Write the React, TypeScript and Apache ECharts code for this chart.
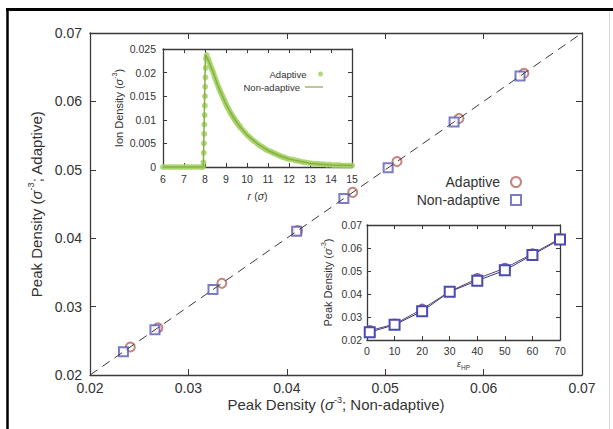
import React, { useEffect, useRef } from "react";
import * as echarts from "echarts";

// Main panel: peak densities (sigma^-3) for each eps_HP
const epsHP = [1, 10, 20, 30, 40, 50, 60, 70];
const adaptivePeak = [0.0241, 0.0269, 0.0334, 0.0411, 0.0467, 0.0512, 0.0575, 0.0641];
const nonAdaptivePeak = [0.0234, 0.0266, 0.0325, 0.0410, 0.0458, 0.0503, 0.0570, 0.0637];
const diagonal = [0.02, 0.07];

// Inset 1: ion density profile vs r (sigma)
const ionAdaptive: [number, number][] = [
  [6.0, 0], [6.15, 0], [6.3, 0], [6.45, 0], [6.6, 0], [6.75, 0], [6.9, 0], [7.05, 0], [7.2, 0], [7.35, 0],
  [7.5, 0], [7.65, 0], [7.8, 0], [7.9, 0],
  [7.93, 0.001], [7.94, 0.003], [7.95, 0.005], [7.96, 0.007], [7.97, 0.009], [7.98, 0.011], [7.99, 0.013],
  [8.0, 0.015], [8.01, 0.017], [8.02, 0.019], [8.03, 0.021], [8.05, 0.023], [8.08, 0.0237],
  [8.15, 0.0229], [8.2, 0.0222], [8.25, 0.0216], [8.3, 0.021], [8.35, 0.0205], [8.4, 0.0199], [8.45, 0.0192],
  [8.5, 0.0186], [8.55, 0.018], [8.6, 0.0174], [8.65, 0.0168], [8.7, 0.0163], [8.75, 0.0158], [8.8, 0.0153],
  [8.85, 0.0148], [8.9, 0.0143], [8.95, 0.0138], [9.0, 0.0133], [9.05, 0.0128], [9.1, 0.0124], [9.15, 0.012],
  [9.2, 0.0116], [9.25, 0.0112], [9.3, 0.0109], [9.35, 0.0105], [9.4, 0.0102], [9.45, 0.0098], [9.5, 0.0095],
  [9.55, 0.0092], [9.6, 0.0089], [9.65, 0.0086], [9.7, 0.0083], [9.8, 0.0078], [9.9, 0.0073], [10.0, 0.0068],
  [10.1, 0.0064], [10.2, 0.006], [10.3, 0.0056], [10.4, 0.0053], [10.5, 0.0049], [10.6, 0.0046],
  [10.7, 0.0043], [10.8, 0.004], [10.9, 0.0037], [11.0, 0.0035], [11.1, 0.0033], [11.2, 0.0031],
  [11.3, 0.0029], [11.4, 0.0027], [11.5, 0.0025], [11.6, 0.0023], [11.7, 0.0021], [11.8, 0.002],
  [11.9, 0.0018], [12.0, 0.0017], [12.15, 0.0016], [12.3, 0.0014], [12.45, 0.0013], [12.6, 0.0011],
  [12.75, 0.001], [12.9, 0.0009], [13.05, 0.0008], [13.2, 0.0007], [13.35, 0.0007], [13.5, 0.0006],
  [13.65, 0.0006], [13.8, 0.0005], [13.95, 0.0005], [14.1, 0.0004], [14.25, 0.0004], [14.4, 0.0004],
  [14.55, 0.0003], [14.7, 0.0003], [14.85, 0.0003], [15.0, 0.0003],
];
const ionNonAdaptive: [number, number][] = [
  [6, 0], [7.92, 0], [8.02, 0.0238], [8.2, 0.0222], [8.4, 0.0199], [8.6, 0.0174], [8.8, 0.0153], [9.0, 0.0133],
  [9.3, 0.0109], [9.6, 0.0089], [10.0, 0.0068], [10.5, 0.0049], [11.0, 0.0035], [11.5, 0.0025], [12.0, 0.0017],
  [12.5, 0.0012], [13.0, 0.0008], [13.5, 0.0006], [14.0, 0.0004], [15.0, 0.0003],
];

const FONT = "'Liberation Sans', Arial, Helvetica, sans-serif";
const AX = "#3a3a3a";

const fmt = (v: number) => String(Number(v.toFixed(4)));

function axisCommon(tickLen: number, fontSize: number, showLabel: boolean) {
  return {
    axisLine: { show: true, onZero: false, lineStyle: { color: AX, width: 1.3 } },
    axisTick: { show: true, inside: true, length: tickLen, lineStyle: { color: AX, width: 1 } },
    splitLine: { show: false },
    axisLabel: { show: showLabel, color: "#333", fontSize, fontFamily: FONT, formatter: fmt },
  };
}

function richName(size: number) {
  return {
    color: "#333",
    fontFamily: FONT,
    rich: {
      n: { fontSize: size, fontFamily: FONT, color: "#333", lineHeight: size + 4 },
      i: { fontSize: size, fontFamily: FONT, fontStyle: "italic", color: "#333", lineHeight: size + 4 },
      s: { fontSize: Math.round(size * 0.62), fontFamily: FONT, color: "#333", verticalAlign: "top", lineHeight: size + 2 },
    },
  };
}

export default function App() {
  const ref = useRef<HTMLDivElement>(null);
  useEffect(() => {
    const chart = echarts.init(ref.current!, null, { renderer: "svg" });
    const option: any = {
      animation: false,
      backgroundColor: "#fff",
      grid: [
        { left: 90, top: 33, width: 492, height: 342 },
        { left: 163, top: 49, width: 189, height: 118, show: true, backgroundColor: "#fff", borderWidth: 0 },
        { left: 367, top: 225, width: 193, height: 115, show: true, backgroundColor: "#fff", borderWidth: 0 },
      ],
      xAxis: [
        {
          gridIndex: 0, type: "value", min: 0.02, max: 0.07, interval: 0.01, position: "bottom",
          ...axisCommon(6, 14, true),
          axisLabel: { color: "#333", fontSize: 14, fontFamily: FONT, formatter: fmt, margin: 6 },
          name: "{n|Peak Density (}{i|σ}{s|-3}{n|; Non-adaptive)}",
          nameLocation: "middle", nameGap: 20, nameMoveOverlap: false, nameTextStyle: richName(15),
        },
        { gridIndex: 0, type: "value", min: 0.02, max: 0.07, interval: 0.01, position: "top", ...axisCommon(6, 14, false) },
        {
          gridIndex: 1, type: "value", min: 6, max: 15, interval: 1, position: "bottom",
          ...axisCommon(4, 10.5, true),
          axisLabel: { color: "#333", fontSize: 10.5, fontFamily: FONT, formatter: fmt, margin: 6 },
          name: "{i|r} {n|(}{i|σ}{n|)}", nameLocation: "middle", nameGap: 22, nameTextStyle: richName(10.5),
        },
        { gridIndex: 1, type: "value", min: 6, max: 15, interval: 1, position: "top", ...axisCommon(4, 10, false) },
        {
          gridIndex: 2, type: "value", min: 0, max: 70, interval: 10, position: "bottom",
          ...axisCommon(4, 10.5, true),
          axisLabel: { color: "#333", fontSize: 10.5, fontFamily: FONT, formatter: fmt, margin: 5 },
          name: "{i|ε}{b|HP}", nameLocation: "middle", nameGap: 19,
          nameTextStyle: {
            color: "#333", fontFamily: FONT,
            rich: {
              i: { fontSize: 9, fontStyle: "italic", fontFamily: FONT, color: "#333", lineHeight: 10, verticalAlign: "top" },
              b: { fontSize: 6.5, fontFamily: FONT, color: "#333", lineHeight: 12, verticalAlign: "bottom" },
            },
          },
        },
        { gridIndex: 2, type: "value", min: 0, max: 70, interval: 10, position: "top", ...axisCommon(4, 10, false) },
      ],
      yAxis: [
        {
          gridIndex: 0, type: "value", min: 0.02, max: 0.07, interval: 0.01, position: "left",
          ...axisCommon(6, 14, true),
          axisLabel: { color: "#333", fontSize: 14, fontFamily: FONT, formatter: fmt, margin: 8 },
          name: "{n|Peak Density (}{i|σ}{s|-3}{n|; Adaptive)}",
          nameLocation: "middle", nameGap: 42, nameTextStyle: richName(15),
        },
        { gridIndex: 0, type: "value", min: 0.02, max: 0.07, interval: 0.01, position: "right", ...axisCommon(6, 14, false) },
        {
          gridIndex: 1, type: "value", min: 0, max: 0.025, interval: 0.005, position: "left",
          ...axisCommon(4, 10.5, true),
          axisLabel: { color: "#333", fontSize: 10.5, fontFamily: FONT, formatter: fmt, margin: 7 },
          name: "{n|Ion Density (}{i|σ}{s|-3}{n|)}", nameLocation: "middle", nameGap: 37, nameTextStyle: richName(11),
        },
        { gridIndex: 1, type: "value", min: 0, max: 0.025, interval: 0.005, position: "right", ...axisCommon(4, 10, false) },
        {
          gridIndex: 2, type: "value", min: 0.02, max: 0.07, interval: 0.01, position: "left",
          ...axisCommon(4, 10.5, true),
          axisLabel: { color: "#333", fontSize: 10.5, fontFamily: FONT, formatter: fmt, margin: 5 },
          name: "{n|Peak Density (}{i|σ}{s|-3}{n|)}", nameLocation: "middle", nameGap: 32, nameTextStyle: richName(11),
        },
        { gridIndex: 2, type: "value", min: 0.02, max: 0.07, interval: 0.01, position: "right", ...axisCommon(4, 10, false) },
      ],
      legend: [
        {
          data: ["Adaptive", "Non-adaptive"],
          orient: "vertical", align: "right", right: 86, top: 170,
          itemWidth: 10, itemHeight: 10, itemGap: 4,
          textStyle: { fontSize: 14, fontFamily: FONT, color: "#333", padding: [0, 6, 0, 0] },
          selectedMode: false,
        },
        {
          data: [{ name: "ion-adaptive", icon: "circle" }],
          formatter: () => "Adaptive",
          orient: "vertical", align: "right", right: 285, top: 64,
          itemWidth: 18, itemHeight: 5,
          textStyle: { fontSize: 9.5, fontFamily: FONT, color: "#333" },
          selectedMode: false,
        },
        {
          data: [{ name: "ion-non", icon: "rect" }],
          formatter: () => "Non-adaptive",
          orient: "vertical", align: "right", right: 285, top: 77,
          itemWidth: 18, itemHeight: 1.5,
          textStyle: { fontSize: 9.5, fontFamily: FONT, color: "#333" },
          selectedMode: false,
        },
      ],
      series: [
        {
          name: "diag", type: "line", xAxisIndex: 0, yAxisIndex: 0, symbol: "none", silent: true,
          data: diagonal.map((v) => [v, v]),
          lineStyle: { color: "#3a3a3a", width: 1, type: [9, 6] },
        },
        {
          name: "Adaptive", type: "scatter", xAxisIndex: 0, yAxisIndex: 0, symbol: "emptyCircle", symbolSize: 9,
          data: adaptivePeak.map((v) => [v, v]),
          itemStyle: { color: "#b8665e", borderWidth: 1 },
        },
        {
          name: "Non-adaptive", type: "scatter", xAxisIndex: 0, yAxisIndex: 0, symbol: "emptyRect", symbolSize: 9,
          data: nonAdaptivePeak.map((v) => [v, v]),
          itemStyle: { color: "#5a5ab8", borderWidth: 1 },
        },
        {
          name: "ion-adaptive", type: "scatter", xAxisIndex: 2, yAxisIndex: 2, symbol: "circle", symbolSize: 6,
          data: ionAdaptive, itemStyle: { color: "#a6d266", opacity: 0.85 },
        },
        {
          name: "ion-non", type: "line", xAxisIndex: 2, yAxisIndex: 2, symbol: "none",
          data: ionNonAdaptive, lineStyle: { color: "#86b044", width: 1.5 }, itemStyle: { color: "#a8b070" },
        },
        {
          name: "eps-adaptive", type: "line", xAxisIndex: 4, yAxisIndex: 4, symbol: "emptyCircle", symbolSize: 9,
          data: epsHP.map((e, i) => [e, adaptivePeak[i]]),
          lineStyle: { color: "#5a4a6a", width: 1 }, itemStyle: { color: "#8a6a9a", borderWidth: 1 },
        },
        {
          name: "eps-non", type: "line", xAxisIndex: 4, yAxisIndex: 4, symbol: "emptyRect", symbolSize: 10,
          data: epsHP.map((e, i) => [e, nonAdaptivePeak[i]]),
          lineStyle: { color: "#36368a", width: 1 }, itemStyle: { color: "#4a4ab0", borderWidth: 1 },
        },
      ],
      graphic: [
        { type: "line", shape: { x1: 6, y1: 9.5, x2: 613, y2: 9.5 }, style: { stroke: "#000", lineWidth: 3 } },
        { type: "line", shape: { x1: 7.5, y1: 8, x2: 7.5, y2: 429 }, style: { stroke: "#000", lineWidth: 2.5 } },
        { type: "line", shape: { x1: 609.5, y1: 11, x2: 609.5, y2: 429 }, style: { stroke: "#d8d8d8", lineWidth: 1 } },
      ],
    };
    chart.setOption(option);
    return () => chart.dispose();
  }, []);
  return (
    <div
      ref={ref}
      style={{ position: "fixed", left: 0, top: 0, width: 613, height: 429, background: "#fff" }}
    />
  );
}
